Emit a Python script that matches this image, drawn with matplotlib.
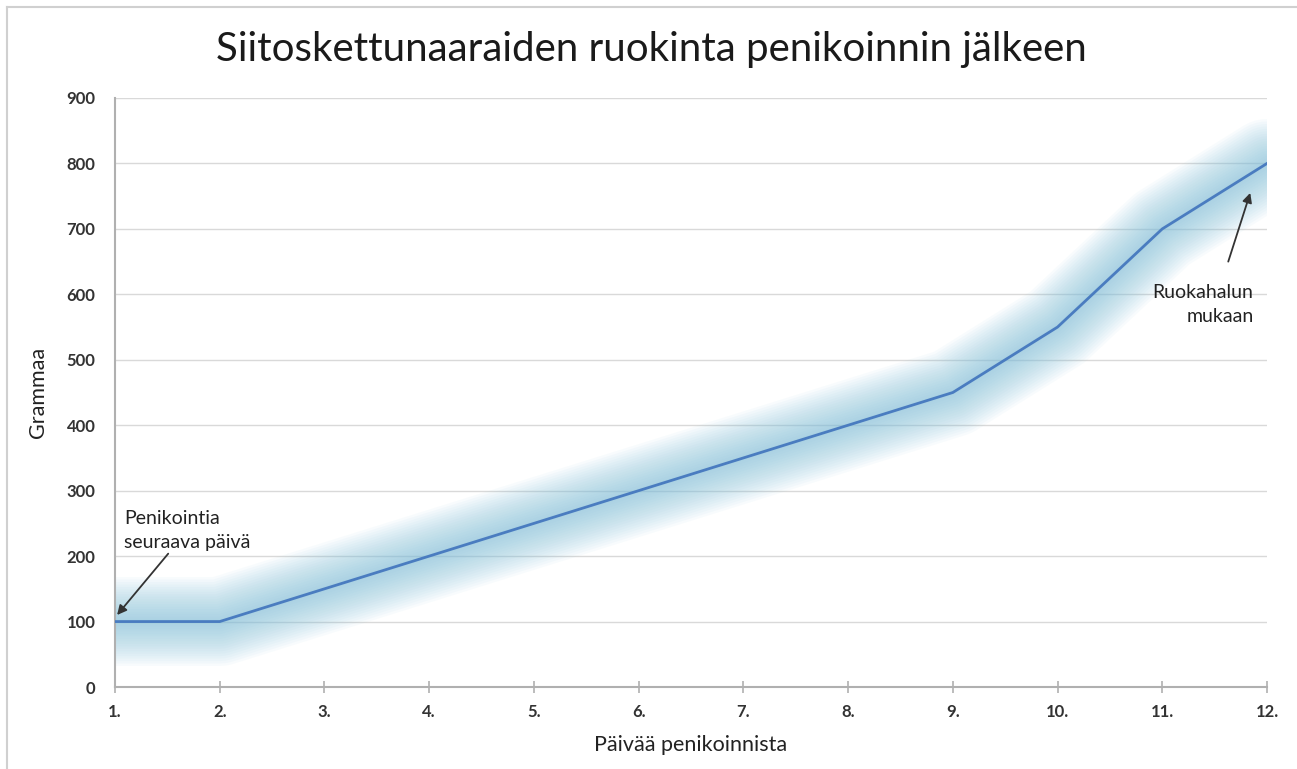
import matplotlib
matplotlib.use("Agg")
import matplotlib.pyplot as plt
from matplotlib.lines import Line2D

days = [1, 2, 3, 4, 5, 6, 7, 8, 9, 10, 11, 12]
grams = [100, 100, 150, 200, 250, 300, 350, 400, 450, 550, 700, 800]
x_labels = ["1.", "2.", "3.", "4.", "5.", "6.", "7.", "8.", "9.", "10.", "11.", "12."]
y_ticks = [0, 100, 200, 300, 400, 500, 600, 700, 800, 900]

title = "Siitoskettunaaraiden ruokinta penikoinnin jälkeen"
xlabel = "Päivää penikoinnista"
ylabel = "Grammaa"
note_start = "Penikointia\nseuraava päivä"
note_end = "Ruokahalun\nmukaan"

plt.rcParams['font.family'] = ['Lato', 'DejaVu Sans']

W, H = 1297, 769
fig = plt.figure(figsize=(W / 100, H / 100), dpi=100)
fig.patch.set_facecolor('white')

# outer frame (top and left)
fig.add_artist(Line2D([7 / W, 7 / W], [0, 1 - 7 / H], transform=fig.transFigure,
                      color='#d0d0d0', lw=1.5))
fig.add_artist(Line2D([7 / W, 1], [1 - 7 / H, 1 - 7 / H], transform=fig.transFigure,
                      color='#d0d0d0', lw=1.5))

left, right = 115 / W, 1267 / W
bottom, top = 1 - 687 / H, 1 - 98 / H
ax = fig.add_axes([left, bottom, right - left, top - bottom])

ax.set_xlim(days[0], days[-1])
ax.set_ylim(0, 900)

# glow
n = 18
for i in range(n):
    w = 4 + (64 - 4) * (i / (n - 1))
    ax.plot(days, grams, color='#7fc0d8', lw=w, alpha=0.05,
            solid_capstyle='round', solid_joinstyle='round', zorder=2)

ax.plot(days, grams, color='#4a7cc0', lw=2.0, zorder=4, solid_joinstyle='round')

ax.set_yticks(y_ticks)
ax.set_yticklabels([str(v) for v in y_ticks])
ax.set_xticks(days)
ax.set_xticklabels(x_labels)

ax.grid(axis='y', color='#d9d9d9', lw=1.0, zorder=0)
ax.set_axisbelow(True)

for s in ['top', 'right']:
    ax.spines[s].set_visible(False)
ax.spines['left'].set_color('#b0b0b0')
ax.spines['left'].set_linewidth(1.5)
ax.spines['bottom'].set_color('#b0b0b0')
ax.spines['bottom'].set_linewidth(1.5)

ax.tick_params(axis='y', length=0, pad=14, labelsize=12, labelcolor='#333333')
ax.tick_params(axis='x', direction='inout', length=8, width=1.2, color='#b0b0b0',
               pad=8, labelsize=12, labelcolor='#333333')
for lab in ax.get_xticklabels() + ax.get_yticklabels():
    lab.set_fontweight('bold')

fig.text(651 / W, 1 - 50 / H, title, ha='center', va='center', fontsize=29, color='#1a1a1a')
fig.text(691 / W, 1 - 745 / H, xlabel, ha='center', va='center', fontsize=15.5, color='#222222')
fig.text(38 / W, 1 - 392 / H, ylabel, ha='center', va='center', rotation=90,
         fontsize=15.5, color='#222222')

# annotations
ax.annotate(note_start, xy=(days[0] + 0.02, grams[0] + 10), xytext=(1.09, 208),
            ha='left', va='bottom', fontsize=14, color='#222222', linespacing=1.5,
            arrowprops=dict(arrowstyle='-|>', color='#333333', lw=1.3,
                            shrinkA=0, shrinkB=0, mutation_scale=14))
ax.annotate("", xy=(days[-1] - 0.16, 755), xytext=(days[-1] - 0.37, 650),
            arrowprops=dict(arrowstyle='-|>', color='#333333', lw=1.3,
                            shrinkA=0, shrinkB=0, mutation_scale=14))
ax.text(days[-1] - 0.13, 553, note_end, ha='right', va='bottom', fontsize=14,
        color='#222222', linespacing=1.5)

fig.savefig("out.png", dpi=100, facecolor='white')
